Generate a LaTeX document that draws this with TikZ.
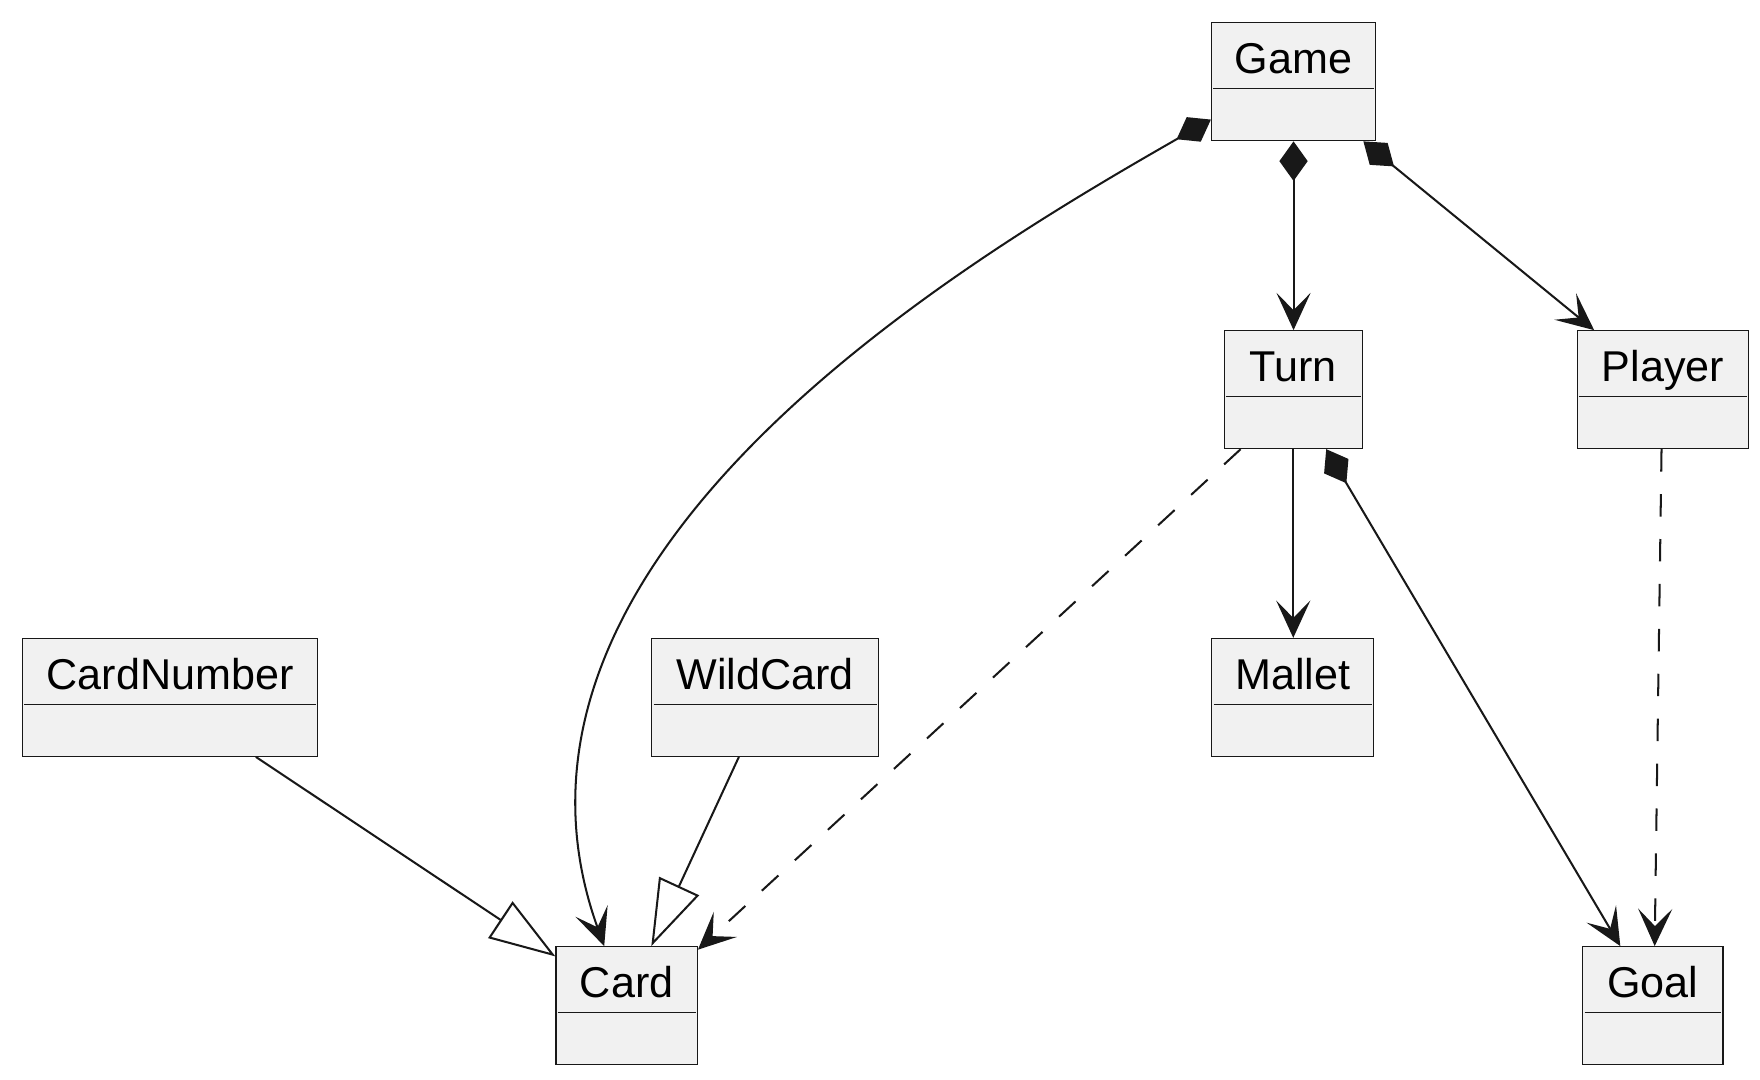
\documentclass[tikz,border=0pt]{standalone}
\usepackage{fontspec}
\setmainfont{Liberation Sans}
\usetikzlibrary{arrows.meta}

\definecolor{boxfill}{HTML}{F1F1F1}
\definecolor{ink}{HTML}{181818}

\tikzset{
    classbox/.style={draw=ink, fill=boxfill, line width=0.5pt, rectangle, inner sep=0pt,
                     minimum height=52.5pt, anchor=north west},
    divider/.style={draw=ink, line width=0.5pt},
    classname/.style={anchor=base, inner sep=0pt, font=\fontsize{19.2pt}{23pt}\selectfont},
    link/.style={draw=ink, line width=0.9pt},
    dep/.style={link, dash pattern=on 10pt off 10pt},
    umlhead/.tip={Stealth[length=16.6pt, width=15.2pt, inset=7.7pt]},
    umlcomp/.tip={Diamond[length=17.6pt, width=12.6pt]},
    umlext/.tip={Triangle[open, fill=white, length=29.5pt, width=19.5pt]}
}

\begin{document}
\begin{tikzpicture}[x=0.5pt, y=-0.5pt]
        \path[fill=white] (0,0) rectangle (1567.3, 961.7);

        % Game
        \node[classbox, minimum width=73.1pt]  (game)       at (1078.3,  19.9) {};
        \draw[divider] ([xshift=1pt,yshift=-29.65pt]game.north west) -- ([xshift=-1pt,yshift=-29.65pt]game.north east);
        \node[classname] (gamename)       at ([yshift=-23pt]game.north)       {Game};

        % Turn
        \node[classbox, minimum width=61.55pt] (turn)       at (1089.6, 294) {};
        \draw[divider] ([xshift=1pt,yshift=-29.65pt]turn.north west) -- ([xshift=-1pt,yshift=-29.65pt]turn.north east);
        \node[classname] (turnname)       at ([yshift=-23pt]turn.north)       {Turn};

        % Player
        \node[classbox, minimum width=76.3pt]  (player)     at (1404, 294) {};
        \draw[divider] ([xshift=1pt,yshift=-29.65pt]player.north west) -- ([xshift=-1pt,yshift=-29.65pt]player.north east);
        \node[classname] (playername)     at ([yshift=-23pt]player.north)     {Player};

        % CardNumber
        \node[classbox, minimum width=131.55pt] (cardnumber) at (19.5, 568) {};
        \draw[divider] ([xshift=1pt,yshift=-29.65pt]cardnumber.north west) -- ([xshift=-1pt,yshift=-29.65pt]cardnumber.north east);
        \node[classname] (cardnumbername) at ([yshift=-23pt]cardnumber.north) {CardNumber};

        % WildCard
        \node[classbox, minimum width=100.9pt] (wildcard)   at (580, 568) {};
        \draw[divider] ([xshift=1pt,yshift=-29.65pt]wildcard.north west) -- ([xshift=-1pt,yshift=-29.65pt]wildcard.north east);
        \node[classname] (wildcardname)   at ([yshift=-23pt]wildcard.north)   {WildCard};

        % Mallet
        \node[classbox, minimum width=71.9pt]  (mallet)     at (1078.7, 568) {};
        \draw[divider] ([xshift=1pt,yshift=-29.65pt]mallet.north west) -- ([xshift=-1pt,yshift=-29.65pt]mallet.north east);
        \node[classname] (malletname)     at ([yshift=-23pt]mallet.north)     {Mallet};

        % Card
        \node[classbox, minimum width=62.95pt] (card)       at (494.6, 842.5) {};
        \draw[divider] ([xshift=1pt,yshift=-29.65pt]card.north west) -- ([xshift=-1pt,yshift=-29.65pt]card.north east);
        \node[classname] (cardname)       at ([yshift=-23pt]card.north)       {Card};

        % Goal
        \node[classbox, minimum width=62.4pt]  (goal)       at (1409, 842.5) {};
        \draw[divider] ([xshift=1pt,yshift=-29.65pt]goal.north west) -- ([xshift=-1pt,yshift=-29.65pt]goal.north east);
        \node[classname] (goalname)       at ([yshift=-23pt]goal.north)       {Goal};

        % Compositions
        \draw[link, umlcomp-umlhead] (game.south) -- (game.south |- turn.north);
        \draw[link, umlcomp-umlhead] ([xshift=31.1pt]game.south) -- ([xshift=7.8pt]player.north west);
        \draw[link, umlcomp-umlhead] ([yshift=-16.8pt]game.west) .. controls (861, 231) and (412.5, 494.3) .. ([xshift=-10pt]card.north);
        \draw[link, umlcomp-umlhead] ([xshift=-16.35pt]turn.south east) -- ([xshift=16.95pt]goal.north west);

        % Plain association
        \draw[link, -umlhead] (turn.south) -- (turn.south |- mallet.north);

        % Dependencies
        \draw[dep, -umlhead] ([xshift=7.6pt]turn.south west) -- ([yshift=-1.6pt]card.north east);
        \draw[dep, -umlhead] ([xshift=-0.6pt]player.south) -- ([xshift=0.8pt]goal.north);

        % Generalizations
        \draw[link, -umlext] ([xshift=104.15pt]cardnumber.south west) -- ([yshift=-4.6pt]card.north west);
        \draw[link, -umlext] ([xshift=39pt]wildcard.south west) -- ([xshift=42.7pt]card.north west);
\end{tikzpicture}
\end{document}
